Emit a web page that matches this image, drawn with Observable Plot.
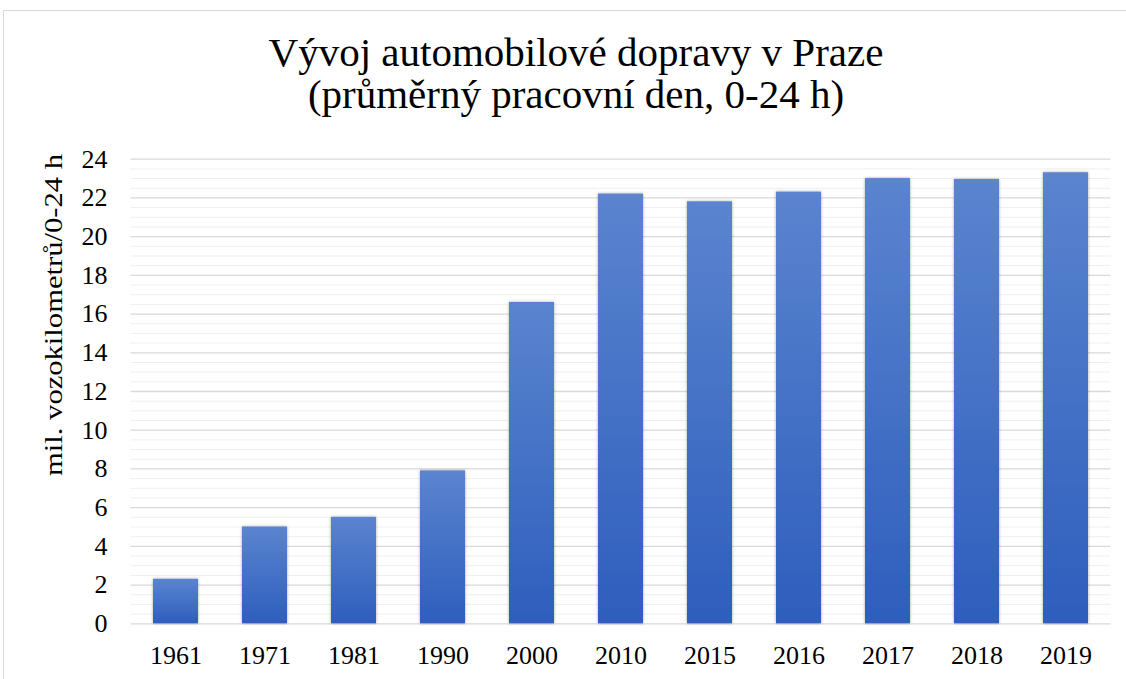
<!DOCTYPE html>
<html>
<head>
<meta charset="utf-8">
<script src="https://cdn.jsdelivr.net/npm/d3@7"></script>
<script src="https://cdn.jsdelivr.net/npm/@observablehq/plot@0.6"></script>
<style>
  html, body { margin: 0; padding: 0; background: #fff; width: 1126px; height: 679px; overflow: hidden; }
  #frame { position: absolute; left: 3px; top: 10px; width: 1140px; height: 700px; border: 1px solid #d9d9d9; box-sizing: border-box; }
  #title { position: absolute; left: 4px; top: 31px; width: 1144px; text-align: center;
           font-family: "Liberation Serif", "Times New Roman", serif; font-size: 41px; line-height: 42px; color: #000; }
  #chart { position: absolute; left: 0; top: 140px; }
</style>
</head>
<body>
<div id="frame"></div>
<div id="title">Vývoj automobilové dopravy v Praze<br>(průměrný pracovní den, 0-24 h)</div>
<div id="chart"></div>
<script>
const years = ["1961", "1971", "1981", "1990", "2000", "2010", "2015", "2016", "2017", "2018", "2019"];
const values = [2.3, 5.0, 5.5, 7.9, 16.6, 22.2, 21.8, 22.3, 23.0, 22.95, 23.3];
const yTicks = [0, 2, 4, 6, 8, 10, 12, 14, 16, 18, 20, 22, 24];
const minorTicks = d3.range(0.5, 24, 0.5).filter(v => v % 2 !== 0);
const yLabel = "mil. vozokilometrů/0-24 h";

const data = years.map((y, i) => ({year: y, value: values[i]}));

const plot = Plot.plot({
  width: 1126,
  height: 539,
  marginLeft: 130.5,
  marginRight: 15.5,
  marginTop: 18.7,
  marginBottom: 55.7,
  style: {fontFamily: "'Liberation Serif', 'Times New Roman', serif", fontSize: "26px", color: "#000", background: "transparent"},
  x: {domain: years, paddingInner: 0.5, paddingOuter: 0.25, label: null},
  y: {domain: [0, 24], label: null},
  marks: [
    Plot.ruleY(minorTicks, {stroke: "#efefef", strokeWidth: 1}),
    Plot.ruleY(yTicks, {stroke: "#d9d9d9", strokeWidth: 1.3}),
    Plot.barY(data, {x: "year", y: "value", fill: "url(#barGrad)"}),
    Plot.axisX({tickSize: 0, tickPadding: 22, fontSize: 26, label: null}),
    Plot.axisY(yTicks, {tickSize: 0, tickPadding: 23.5, fontSize: 26, label: null, tickFormat: d => String(d)}),
  ]
});

const svg = d3.select(plot);
const defs = svg.insert("defs", ":first-child");
const grad = defs.append("linearGradient").attr("id", "barGrad")
  .attr("x1", 0).attr("y1", 0).attr("x2", 0).attr("y2", 1);
grad.append("stop").attr("offset", "0%").attr("stop-color", "#5b84cf");
grad.append("stop").attr("offset", "100%").attr("stop-color", "#2e5ebd");
const filt = defs.append("filter").attr("id", "shadow").attr("x", "-20%").attr("y", "-20%").attr("width", "140%").attr("height", "140%");
filt.append("feDropShadow").attr("dx", 0).attr("dy", 0).attr("stdDeviation", 1.6)
  .attr("flood-color", "#000").attr("flood-opacity", 0.35);
svg.selectAll("rect").filter(function() { return this.getAttribute("fill") === "url(#barGrad)" || (this.parentNode && this.parentNode.getAttribute("fill") === "url(#barGrad)"); })
  .attr("filter", "url(#shadow)");

// y-axis title
svg.append("text")
  .attr("transform", "translate(56," + (315 - 140) + ") rotate(-90)")
  .attr("text-anchor", "middle")
  .attr("dominant-baseline", "middle")
  .attr("font-family", "'Liberation Serif', 'Times New Roman', serif")
  .attr("font-size", 25)
  .attr("textLength", 322)
  .attr("lengthAdjust", "spacingAndGlyphs")
  .attr("fill", "#000")
  .text(yLabel);

document.getElementById("chart").appendChild(plot);
</script>
</body>
</html>
